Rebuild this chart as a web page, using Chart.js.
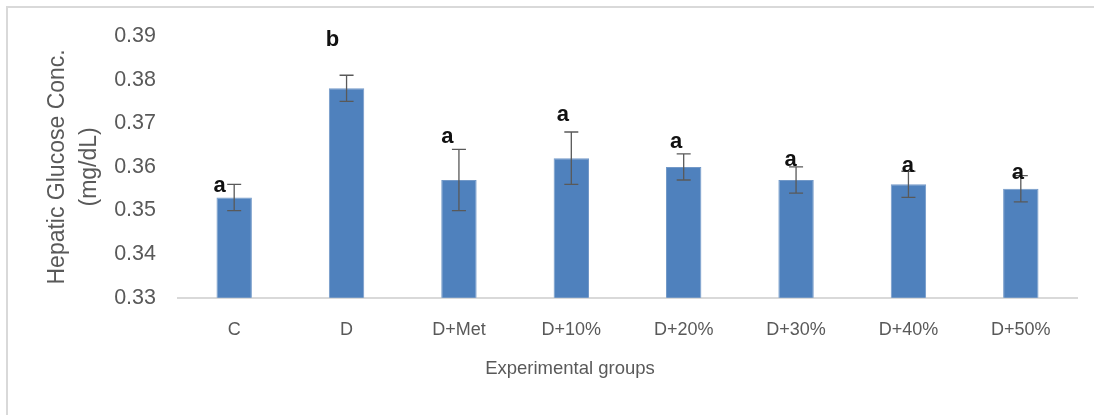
<!DOCTYPE html>
<html>
<head>
<meta charset="utf-8">
<script src="https://cdn.jsdelivr.net/npm/chart.js@4"></script>
<style>
  html, body { margin: 0; padding: 0; background: #ffffff; overflow: hidden; width: 1094px; height: 415px; }
  #frame { position: absolute; left: 6px; top: 6px; width: 2000px; height: 1000px;
           border-top: 2px solid #d9d9d9; border-left: 2px solid #d9d9d9; pointer-events: none; }
  canvas { position: absolute; left: 0; top: 0; }
</style>
</head>
<body>
<div id="frame"></div>
<canvas id="c" width="1094" height="415" style="width:1094px;height:415px"></canvas>
<script>
// ---- data ----
const categories = ['C', 'D', 'D+Met', 'D+10%', 'D+20%', 'D+30%', 'D+40%', 'D+50%'];
const glucose = [0.353, 0.378, 0.357, 0.362, 0.360, 0.357, 0.356, 0.355];
const errors = [0.003, 0.003, 0.007, 0.006, 0.003, 0.003, 0.003, 0.003];
const letters = ['a', 'b', 'a', 'a', 'a', 'a', 'a', 'a'];
const letterLevels = [0.3543, 0.3877, 0.3655, 0.3705, 0.3644, 0.3602, 0.3589, 0.3573];
const yTickLabels = ['0.33', '0.34', '0.35', '0.36', '0.37', '0.38', '0.39'];

const FONT = '"Liberation Sans", Arial, sans-serif';

const errorBarPlugin = {
  id: 'errorBars',
  afterDatasetsDraw(chart, args, opts) {
    const ctx = chart.ctx;
    const meta = chart.getDatasetMeta(0);
    const y = chart.scales.y;
    ctx.save();
    ctx.strokeStyle = opts.color;
    ctx.lineWidth = opts.lineWidth;
    meta.data.forEach((bar, i) => {
      const x = bar.x;
      const top = y.getPixelForValue(glucose[i] + errors[i]);
      const bot = y.getPixelForValue(glucose[i] - errors[i]);
      ctx.beginPath();
      ctx.moveTo(x, top); ctx.lineTo(x, bot);
      ctx.moveTo(x - opts.cap, top); ctx.lineTo(x + opts.cap, top);
      ctx.moveTo(x - opts.cap, bot); ctx.lineTo(x + opts.cap, bot);
      ctx.stroke();
    });
    // significance letters
    ctx.fillStyle = opts.letterColor;
    ctx.font = opts.letterFont;
    ctx.textAlign = 'center';
    ctx.textBaseline = 'alphabetic';
    meta.data.forEach((bar, i) => {
      ctx.fillText(letters[i], bar.x + opts.letterDx[i], y.getPixelForValue(letterLevels[i]));
    });
    ctx.restore();
  }
};

new Chart(document.getElementById('c'), {
  type: 'bar',
  data: {
    labels: categories,
    datasets: [{
      data: glucose,
      backgroundColor: '#4f81bd',
      borderColor: '#7399c8',
      borderWidth: 1,
      categoryPercentage: 1,
      barPercentage: 0.315
    }]
  },
  options: {
    responsive: false,
    animation: false,
    devicePixelRatio: 1,
    layout: { padding: { left: 63, right: 17, top: 36, bottom: 0 } },
    plugins: {
      legend: { display: false },
      tooltip: { enabled: false },
      title: {
        display: true,
        position: 'bottom',
        text: 'Experimental groups',
        color: '#595959',
        font: { family: FONT, size: 18.5, weight: 'normal', lineHeight: 1.2 },
        padding: { top: 10, bottom: 35 }
      },
      errorBars: {
        color: '#595959',
        lineWidth: 1.3,
        cap: 7,
        letterColor: '#111111',
        letterFont: 'bold 22px ' + FONT,
        letterDx: [-14.5, -14, -11.5, -8.5, -7.5, -5.5, -0.5, -3]
      }
    },
    scales: {
      x: {
        grid: { display: false, drawTicks: false },
        border: { display: true, color: '#d9d9d9', width: 2 },
        ticks: {
          color: '#595959',
          font: { family: FONT, size: 18 },
          padding: 21,
          autoSkip: false,
          maxRotation: 0
        },
        afterFit(s) { s.height = 50; }
      },
      y: {
        min: 0.33,
        max: 0.39,
        grid: { display: false, drawTicks: false },
        border: { display: false },
        ticks: {
          stepSize: 0.01,
          color: '#595959',
          font: { family: FONT, size: 21.5 },
          padding: 22,
          callback: (v, i) => yTickLabels[i]
        },
        title: {
          display: true,
          text: ['Hepatic Glucose Conc.', '(mg/dL)'],
          color: '#595959',
          font: { family: FONT, size: 23, lineHeight: 1.39 },
          padding: { top: -21, bottom: 0 }
        },
        afterFit(s) { s.width = 115; }
      }
    }
  },
  plugins: [errorBarPlugin]
});
</script>
</body>
</html>
